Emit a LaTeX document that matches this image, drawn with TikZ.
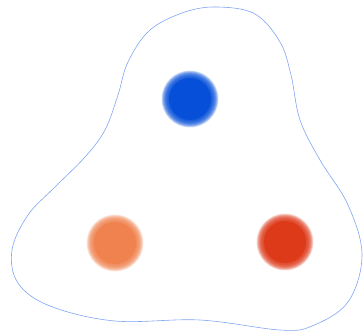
\documentclass[tikz,border=0pt]{standalone}
\usepackage{xcolor}
\usepackage{tikz}
\usetikzlibrary{calc}

\definecolor{blobline}{HTML}{7FA4F0}
\definecolor{dotblue}{HTML}{064FD8}
\definecolor{dotorange}{HTML}{EF824F}
\definecolor{dotred}{HTML}{DD3A1A}

\begin{document}
\begin{tikzpicture}[
			x=0.03cm, y=-0.03cm,
			blob/.style={draw=blobline, line width=0.5pt},
			halo/.style={fill opacity=0.15, draw=none}
		]

		\useasboundingbox (0,0) rectangle (364,336);

		% Outline
		\draw[blob] plot[smooth cycle, tension=0.6] coordinates {
				(218,7) (255,14) (280,42) (291,75) (300,120) (320,160)
				(348,205) (362,255) (348,302) (312,326) (280,330)
				(200,320) (115,321) (50,306) (18,283) (12,250)
				(28,215) (55,187) (85,157) (105,130) (118,95)
				(128,62) (150,30) (185,12)};

		% Dots
		\coordinate (top) at (190,99);
		\coordinate (left) at (115,243);
		\coordinate (right) at (285,242);

		\foreach \c/\col in {top/dotblue, left/dotorange, right/dotred} {
				\foreach \r in {28.5,28,...,21.5}
				\fill[halo, \col] (\c) circle[radius=\r];
				\fill[\col] (\c) circle[radius=21];
			}

	\end{tikzpicture}
\end{document}
